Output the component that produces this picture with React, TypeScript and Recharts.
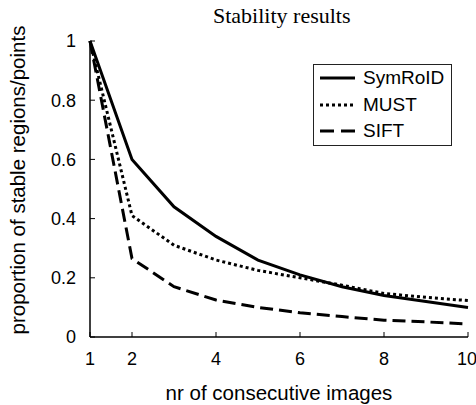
import { LineChart, Line, XAxis, YAxis, Legend } from 'recharts'

// nr of consecutive images
const frames = [1, 2, 3, 4, 5, 6, 7, 8, 9, 10]
const symroid = [1, 0.6, 0.44, 0.34, 0.26, 0.21, 0.17, 0.14, 0.12, 0.1]
const must = [1, 0.41, 0.31, 0.26, 0.225, 0.2, 0.175, 0.147, 0.134, 0.123]
const sift = [1, 0.265, 0.17, 0.125, 0.1, 0.082, 0.069, 0.057, 0.051, 0.044]

const xTicks = [1, 2, 4, 6, 8, 10]
const yTicks = [0, 0.2, 0.4, 0.6, 0.8, 1]

const SERIES = [
  { key: 'symroid', name: 'SymRoID', dash: undefined, legendDash: undefined },
  { key: 'must', name: 'MUST', dash: '3 3', legendDash: '3 3' },
  { key: 'sift', name: 'SIFT', dash: '13 6', legendDash: '14 7' },
]

const data = frames.map((n, i) => ({ n, symroid: symroid[i], must: must[i], sift: sift[i] }))

const SANS = '"Liberation Sans", Arial, sans-serif'

// legend keeps the plotting order, not recharts' alphabetical one
function BoxLegend() {
  return (
    <div style={{ width: 139, height: 82, border: '1.5px solid #222', boxSizing: 'border-box', background: '#fff' }}>
      {SERIES.map((s) => (
        <div key={s.key} style={{ display: 'flex', alignItems: 'center', height: 26.5 }}>
          <svg width={48} height={20} style={{ flex: 'none' }}>
            <line x1={6} x2={41} y1={10} y2={10} stroke="#000" strokeWidth={3} strokeDasharray={s.legendDash} />
          </svg>
          <span style={{ fontFamily: SANS, fontSize: 19, color: '#000', marginLeft: 1 }}>{s.name}</span>
        </div>
      ))}
    </div>
  )
}

// rotated y title, a bit above the plot's middle like the original
// eslint-disable-next-line @typescript-eslint/no-explicit-any
function YTitle({ viewBox }: any) {
  const cx = viewBox.x + 17
  const cy = viewBox.y + viewBox.height / 2 - 9
  return (
    <text
      x={cx}
      y={cy}
      transform={`rotate(-90, ${cx}, ${cy})`}
      textAnchor="middle"
      dominantBaseline="central"
      fill="#000"
      fontSize={20.5}
      fontFamily={SANS}
    >
      proportion of stable regions/points
    </text>
  )
}

export default function App() {
  return (
    <div style={{ position: 'absolute', left: 0, top: 0, width: 476, height: 405, background: '#fff' }}>
      <div style={{ position: 'absolute', left: 213, top: 5, fontFamily: '"Liberation Serif", "Times New Roman", serif', fontSize: 22, lineHeight: '22px', color: '#000' }}>
        Stability results
      </div>
      <LineChart width={476} height={405} data={data} margin={{ top: 41, right: 8, left: 0, bottom: 0 }}>
        <XAxis
          dataKey="n"
          type="number"
          domain={[1, 10]}
          ticks={xTicks}
          height={68}
          tickSize={-5}
          tickMargin={20}
          axisLine={{ stroke: '#000', strokeWidth: 1.5 }}
          tickLine={{ stroke: '#000', strokeWidth: 1 }}
          tick={{ fill: '#000', fontSize: 18, fontFamily: SANS }}
          label={{ value: 'nr of consecutive images', position: 'insideBottom', offset: 5, fill: '#000', fontSize: 20.5, fontFamily: SANS }}
        />
        <YAxis
          type="number"
          domain={[0, 1]}
          ticks={yTicks}
          width={90}
          tickSize={-5}
          tickMargin={19}
          axisLine={{ stroke: '#000', strokeWidth: 1.5 }}
          tickLine={{ stroke: '#000', strokeWidth: 1 }}
          tick={{ fill: '#000', fontSize: 18, fontFamily: SANS }}
          label={{ value: 'proportion of stable regions/points', position: 'insideLeft', content: <YTitle /> }}
        />
        <Legend
          layout="vertical"
          align="center"
          verticalAlign="middle"
          content={<BoxLegend />}
          wrapperStyle={{ left: 313, top: 64, width: 139, height: 82 }}
        />
        {SERIES.map((s) => (
          <Line
            key={s.key}
            dataKey={s.key}
            name={s.name}
            type="linear"
            stroke="#000"
            strokeWidth={3}
            strokeDasharray={s.dash}
            dot={false}
            activeDot={false}
            isAnimationActive={false}
          />
        ))}
      </LineChart>
    </div>
  )
}
